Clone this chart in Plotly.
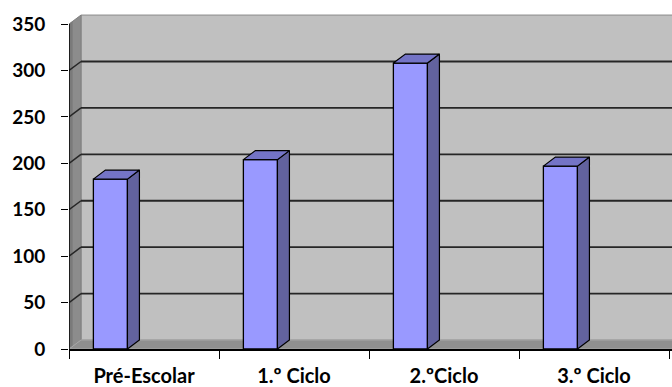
import plotly.graph_objects as go

# Data
categories = ["Pré-Escolar", "1.º Ciclo", "2.ºCiclo", "3.º Ciclo"]
values = [183, 204, 308, 197]
y_ticks = [0, 50, 100, 150, 200, 250, 300, 350]

# 3D box geometry (in axis units)
DX = 0.08      # depth offset along x
DY = 9.7       # depth offset along y
BAR_W = 0.227
BAR_SHIFT = -0.224
X0, X1 = -0.5, 3.52
Y_TOP = 363
WALL_TOP = y_ticks[-1]

FRONT = "#9999FF"
SIDE = "#62629E"
TOP = "#7474C6"

xs = [i + BAR_SHIFT for i in range(len(categories))]

fig = go.Figure()

# front faces of the columns
fig.add_trace(go.Bar(
    x=xs, y=values, width=BAR_W,
    marker=dict(color=FRONT, line=dict(color="black", width=1.3)),
    hoverinfo="skip", showlegend=False,
))

# side and top faces of each column
for xc, v in zip(xs, values):
    xl, xr = xc - BAR_W / 2, xc + BAR_W / 2
    fig.add_trace(go.Scatter(
        x=[xr, xr + DX, xr + DX, xr, xr], y=[0, DY, v + DY, v, 0],
        mode="lines", fill="toself", fillcolor=SIDE,
        line=dict(color="black", width=1.2), hoverinfo="skip", showlegend=False,
    ))
    fig.add_trace(go.Scatter(
        x=[xl, xr, xr + DX, xl + DX, xl], y=[v, v, v + DY, v + DY, v],
        mode="lines", fill="toself", fillcolor=TOP,
        line=dict(color="black", width=1.2), hoverinfo="skip", showlegend=False,
    ))

shapes = []
# back wall
shapes.append(dict(type="rect", xref="x", yref="y", layer="below",
                   x0=X0 + DX, x1=X1 + 0.1, y0=DY, y1=WALL_TOP + DY,
                   fillcolor="#C0C0C0", line=dict(color="#8a8a8a", width=1)))
# left side wall
shapes.append(dict(type="path", xref="x", yref="y", layer="below",
                   path=f"M {X0},0 L {X0},{WALL_TOP} L {X0 + DX},{WALL_TOP + DY} L {X0 + DX},{DY} Z",
                   fillcolor="#8c8c8c", line=dict(color="#808080", width=1)))
shapes.append(dict(type="path", xref="x", yref="y", layer="below",
                   path=f"M {X0},0 L {X0},{WALL_TOP} L {X0 + DX * 0.3},{WALL_TOP + DY * 0.3} L {X0 + DX * 0.3},{DY * 0.3} Z",
                   fillcolor="#7a7a7a", line=dict(width=0)))
# floor
shapes.append(dict(type="path", xref="x", yref="y", layer="below",
                   path=f"M {X0},0 L {X1 + 0.1},0 L {X1 + 0.1},{DY} L {X0 + DX},{DY} Z",
                   fillcolor="#8f8f8f", line=dict(color="#a8a8a8", width=1)))
# gridlines on back and side walls
for v in y_ticks[1:-1]:
    shapes.append(dict(type="line", xref="x", yref="y", layer="below",
                       x0=X0 + DX, x1=X1 + 0.1, y0=v + DY, y1=v + DY,
                       line=dict(color="#262626", width=1.8)))
    shapes.append(dict(type="line", xref="x", yref="y", layer="below",
                       x0=X0, x1=X0 + DX, y0=v, y1=v + DY,
                       line=dict(color="#262626", width=1.5)))
# value axis line
shapes.append(dict(type="line", xref="x", yref="y", layer="above",
                   x0=X0, x1=X0, y0=0, y1=WALL_TOP,
                   line=dict(color="black", width=1.5)))

tick_font = dict(family="Lato", size=19, color="black", weight="bold")

fig.update_layout(
    width=672, height=387,
    margin=dict(l=69, r=0, t=12, b=38),
    paper_bgcolor="white", plot_bgcolor="white",
    shapes=shapes,
    showlegend=False,
    xaxis=dict(
        range=[X0, X1], tickvals=list(range(len(categories))), ticktext=categories,
        ticks="", showgrid=False, zeroline=False, automargin=False,
        showline=True, linecolor="black", linewidth=1.5,
        tickfont=dict(family="Lato", size=20, color="black", weight="bold"),
        ticklabelstandoff=8,
        minor=dict(tick0=X0, dtick=1, ticks="outside", ticklen=8,
                   tickcolor="black", tickwidth=1.3, showgrid=False),
    ),
    yaxis=dict(
        range=[0, Y_TOP], tickvals=y_ticks, ticks="outside", ticklen=7,
        tickcolor="black", tickwidth=1.3, showgrid=False, zeroline=False,
        showline=False, tickfont=tick_font, ticklabelstandoff=12,
        automargin=False,
    ),
)

fig.write_html("out.html")
